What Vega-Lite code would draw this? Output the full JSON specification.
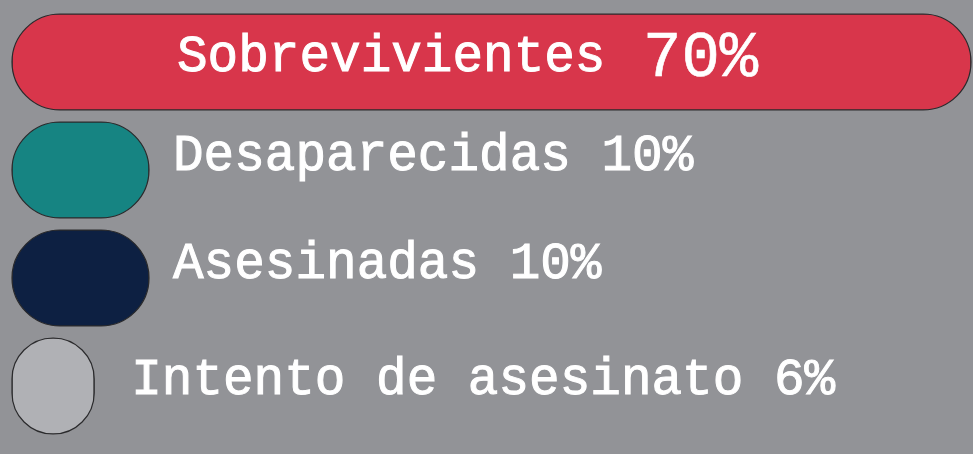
{
  "$schema": "https://vega.github.io/schema/vega-lite/v6.json",
  "width": 973,
  "height": 454,
  "autosize": "none",
  "padding": 0,
  "background": "#929397",
  "config": {"view": {"stroke": null}},
  "data": {
    "values": [
      {"categoria": "Sobrevivientes", "valor": 70, "etiqueta": "Sobrevivientes", "porcentaje": "70%", "texto": "Sobrevivientes 70%"},
      {"categoria": "Desaparecidas", "valor": 10, "etiqueta": "Desaparecidas", "porcentaje": "10%", "texto": "Desaparecidas 10%"},
      {"categoria": "Asesinadas", "valor": 10, "etiqueta": "Asesinadas", "porcentaje": "10%", "texto": "Asesinadas 10%"},
      {"categoria": "Intento de asesinato", "valor": 6, "etiqueta": "Intento de asesinato", "porcentaje": "6%", "texto": "Intento de asesinato 6%"}
    ]
  },
  "encoding": {
    "y": {
      "field": "categoria",
      "type": "nominal",
      "sort": ["Sobrevivientes", "Desaparecidas", "Asesinadas", "Intento de asesinato"],
      "scale": {"range": [8, 440], "paddingInner": 0.111, "paddingOuter": 0.0556},
      "axis": null
    }
  },
  "layer": [
    {
      "mark": {"type": "bar", "cornerRadius": 100, "stroke": "#2a2a2c", "strokeWidth": 1.2},
      "encoding": {
        "x": {"field": "valor", "type": "quantitative", "scale": {"domain": [0, 70], "range": [12, 971], "nice": false, "zero": true}, "axis": null},
        "color": {
          "field": "categoria",
          "type": "nominal",
          "scale": {
            "domain": ["Sobrevivientes", "Desaparecidas", "Asesinadas", "Intento de asesinato"],
            "range": ["#d8364b", "#168482", "#0d2042", "#b0b1b5"]
          },
          "legend": null
        }
      }
    },
    {
      "transform": [{"filter": "datum.categoria === 'Sobrevivientes'"}],
      "mark": {"type": "text", "align": "left", "baseline": "alphabetic", "dx": 165, "dy": 9, "font": "Liberation Mono", "fontSize": 51, "stroke": "white", "strokeWidth": 1, "color": "white"},
      "encoding": {
        "x": {"datum": 0, "type": "quantitative"},
        "text": {"field": "etiqueta"}
      }
    },
    {
      "transform": [{"filter": "datum.categoria === 'Sobrevivientes'"}],
      "mark": {"type": "text", "align": "left", "baseline": "alphabetic", "dx": 631, "dy": 14, "font": "Liberation Mono", "fontSize": 64, "stroke": "white", "strokeWidth": 0.6, "color": "white"},
      "encoding": {
        "x": {"datum": 0, "type": "quantitative"},
        "text": {"field": "porcentaje"}
      }
    },
    {
      "transform": [{"filter": "datum.categoria === 'Desaparecidas' || datum.categoria === 'Asesinadas'"}],
      "mark": {"type": "text", "align": "left", "baseline": "alphabetic", "dx": 24, "dy": 0, "font": "Liberation Mono", "fontSize": 51, "stroke": "white", "strokeWidth": 1, "color": "white"},
      "encoding": {
        "x": {"field": "valor", "type": "quantitative"},
        "text": {"field": "texto"}
      }
    },
    {
      "transform": [{"filter": "datum.categoria === 'Intento de asesinato'"}],
      "mark": {"type": "text", "align": "left", "baseline": "alphabetic", "dx": 37, "dy": 8, "font": "Liberation Mono", "fontSize": 51, "stroke": "white", "strokeWidth": 1, "color": "white"},
      "encoding": {
        "x": {"field": "valor", "type": "quantitative"},
        "text": {"field": "texto"}
      }
    }
  ]
}
